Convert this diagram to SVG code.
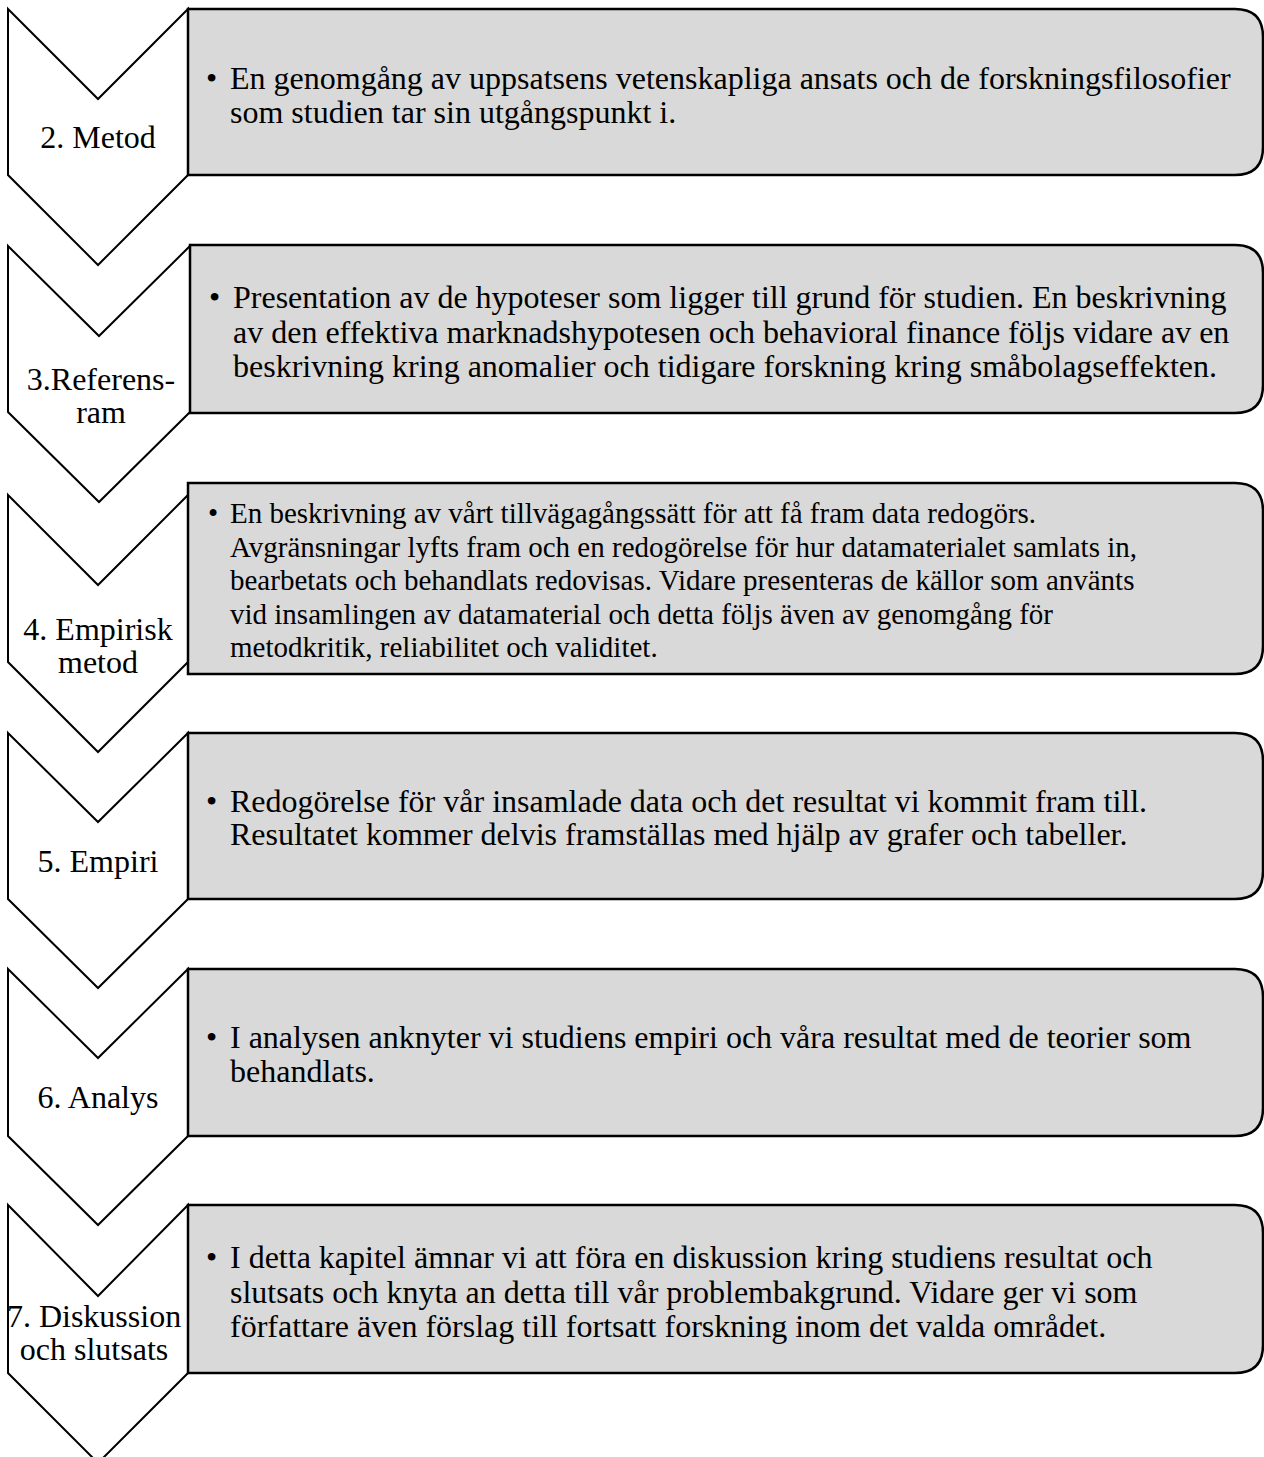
<svg xmlns="http://www.w3.org/2000/svg" width="1264" height="1457" viewBox="0 0 1264 1457">
<style>
.chev{fill:#fff;stroke:#000;stroke-width:2;stroke-linejoin:miter}
.box{fill:#d9d9d9;stroke:#000;stroke-width:2.5}
text{font-family:"Liberation Serif","Times New Roman",serif;font-size:32px;fill:#000}
.lbl{text-anchor:middle}
.sm{font-size:29px}
</style>
<rect width="1264" height="1457" fill="#fff"/>
<g id="connectors"></g>

<g id="step2">
<polygon class="chev" points="8,9 98,99 188,9 188,175 98,265 8,175"/>
<path class="box" d="M188,9 H1235 Q1263,9 1263,37 V147 Q1263,175 1235,175 H188 Z"/>
<text class="lbl" x="98" y="148">2. Metod</text>
<text x="206" y="89">•</text>
<text x="230" y="89">En genomgång av uppsatsens vetenskapliga ansats och de forskningsfilosofier</text>
<text x="230" y="123">som studien tar sin utgångspunkt i.</text>
</g>

<g id="step3">
<polygon class="chev" points="8,246 99,336 190,246 190,412 99,502 8,412"/>
<path class="box" d="M190,245 H1235 Q1263,245 1263,273 V385 Q1263,413 1235,413 H190 Z"/>
<text class="lbl" x="101" y="390">3.Referens-</text>
<text class="lbl" x="101" y="423">ram</text>
<text x="209" y="308">•</text>
<text x="233" y="308">Presentation av de hypoteser som ligger till grund för studien. En beskrivning</text>
<text x="233" y="343">av den effektiva marknadshypotesen och behavioral finance följs vidare av en</text>
<text x="233" y="377">beskrivning kring anomalier och tidigare forskning kring småbolagseffekten.</text>
</g>

<g id="step4">
<polygon class="chev" points="8,495 98,585 188,495 188,662 98,752 8,662"/>
<path class="box" d="M188,483 H1235 Q1263,483 1263,511 V646 Q1263,674 1235,674 H188 Z"/>
<text class="lbl" x="98" y="640">4. Empirisk</text>
<text class="lbl" x="98" y="673">metod</text>
<text class="sm" x="208" y="523">•</text>
<text class="sm" x="230" y="523">En beskrivning av vårt tillvägagångssätt för att få fram data redogörs.</text>
<text class="sm" x="230" y="556.5">Avgränsningar lyfts fram och en redogörelse för hur datamaterialet samlats in,</text>
<text class="sm" x="230" y="590">bearbetats och behandlats redovisas. Vidare presenteras de källor som använts</text>
<text class="sm" x="230" y="623.5">vid insamlingen av datamaterial och detta följs även av genomgång för</text>
<text class="sm" x="230" y="657">metodkritik, reliabilitet och validitet.</text>
</g>

<g id="step5">
<polygon class="chev" points="8,733 98,822 188,733 188,899 98,988 8,899"/>
<path class="box" d="M188,733 H1235 Q1263,733 1263,761 V871 Q1263,899 1235,899 H188 Z"/>
<text class="lbl" x="98" y="872">5. Empiri</text>
<text x="206" y="812">•</text>
<text x="230" y="812">Redogörelse för vår insamlade data och det resultat vi kommit fram till.</text>
<text x="230" y="845">Resultatet kommer delvis framställas med hjälp av grafer och tabeller.</text>
</g>

<g id="step6">
<polygon class="chev" points="8,969 98,1058 188,969 188,1136 98,1225 8,1136"/>
<path class="box" d="M188,969 H1235 Q1263,969 1263,997 V1108 Q1263,1136 1235,1136 H188 Z"/>
<text class="lbl" x="98" y="1108">6. Analys</text>
<text x="206" y="1048">•</text>
<text x="230" y="1048">I analysen anknyter vi studiens empiri och våra resultat med de teorier som</text>
<text x="230" y="1082">behandlats.</text>
</g>

<g id="step7">
<polygon class="chev" points="8,1205 98,1296 188,1205 188,1373 98,1463 8,1373"/>
<path class="box" d="M188,1205 H1235 Q1263,1205 1263,1233 V1345 Q1263,1373 1235,1373 H188 Z"/>
<text class="lbl" x="94" y="1327">7. Diskussion</text>
<text class="lbl" x="94" y="1360">och slutsats</text>
<text x="206" y="1268">•</text>
<text x="230" y="1268">I detta kapitel ämnar vi att föra en diskussion kring studiens resultat och</text>
<text x="230" y="1303">slutsats och knyta an detta till vår problembakgrund. Vidare ger vi som</text>
<text x="230" y="1337">författare även förslag till fortsatt forskning inom det valda området.</text>
</g>
</svg>
